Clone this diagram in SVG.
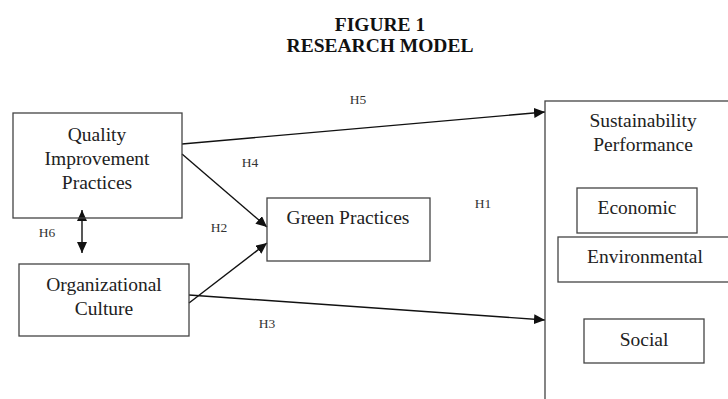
<svg xmlns="http://www.w3.org/2000/svg" width="728" height="399" viewBox="0 0 728 399">
  <defs>
    <marker id="head" markerUnits="userSpaceOnUse" markerWidth="12" markerHeight="10" refX="11" refY="5" orient="auto-start-reverse">
      <path d="M0,0 L11,5 L0,10 z" fill="#111"/>
    </marker>
    <style>
      .box { fill: none; stroke: #444; stroke-width: 1.3; }
      .txt { font-family: "Liberation Serif", "Times New Roman", serif; font-size: 19.5px; fill: #222; text-anchor: middle; }
      .lbl { font-family: "Liberation Serif", "Times New Roman", serif; font-size: 13.5px; fill: #333; text-anchor: middle; }
      .title { font-family: "Liberation Serif", "Times New Roman", serif; font-size: 19.5px; font-weight: bold; fill: #111; text-anchor: middle; }
      .link { fill: none; stroke: #111; stroke-width: 1.4; marker-end: url(#head); }
    </style>
  </defs>
  <rect width="728" height="399" fill="#fff"/>

  <!-- heading -->
  <text class="title" x="380" y="31">FIGURE 1</text>
  <text class="title" x="380" y="52">RESEARCH MODEL</text>

  <!-- connectors -->
  <g id="connectors">
    <path class="link" d="M182,144 L545,112"/>
    <path class="link" d="M182,154 L267,227"/>
    <path class="link" d="M189,303 L267,243"/>
    <path class="link" d="M189,295 L545,320"/>
    <path class="link" d="M82,210 L82,253" style="marker-start:url(#head)"/>
    <text class="lbl" x="358" y="104">H5</text>
    <text class="lbl" x="250" y="167">H4</text>
    <text class="lbl" x="219" y="232">H2</text>
    <text class="lbl" x="483" y="208">H1</text>
    <text class="lbl" x="267" y="328">H3</text>
    <text class="lbl" x="47" y="237">H6</text>
  </g>

  <g id="quality">
    <rect class="box" x="13" y="113" width="169" height="105"/>
    <text class="txt" x="97" y="141">Quality</text>
    <text class="txt" x="97" y="165">Improvement</text>
    <text class="txt" x="97" y="189">Practices</text>
  </g>

  <g id="culture">
    <rect class="box" x="19" y="264" width="170" height="72"/>
    <text class="txt" x="104" y="291">Organizational</text>
    <text class="txt" x="104" y="315">Culture</text>
  </g>

  <g id="green">
    <rect class="box" x="267" y="198" width="163" height="63"/>
    <text class="txt" x="348" y="224">Green Practices</text>
  </g>

  <g id="sustainability">
    <rect class="box" x="545" y="101" width="220" height="330"/>
    <text class="txt" x="643" y="127">Sustainability</text>
    <text class="txt" x="643" y="151">Performance</text>
  </g>

  <g id="economic">
    <rect class="box" x="577" y="188" width="120" height="45"/>
    <text class="txt" x="637" y="214">Economic</text>
  </g>

  <g id="environmental">
    <rect class="box" x="558" y="237" width="180" height="45"/>
    <text class="txt" x="645" y="263">Environmental</text>
  </g>

  <g id="social">
    <rect class="box" x="584" y="319" width="120" height="44"/>
    <text class="txt" x="644" y="346">Social</text>
  </g>
</svg>
